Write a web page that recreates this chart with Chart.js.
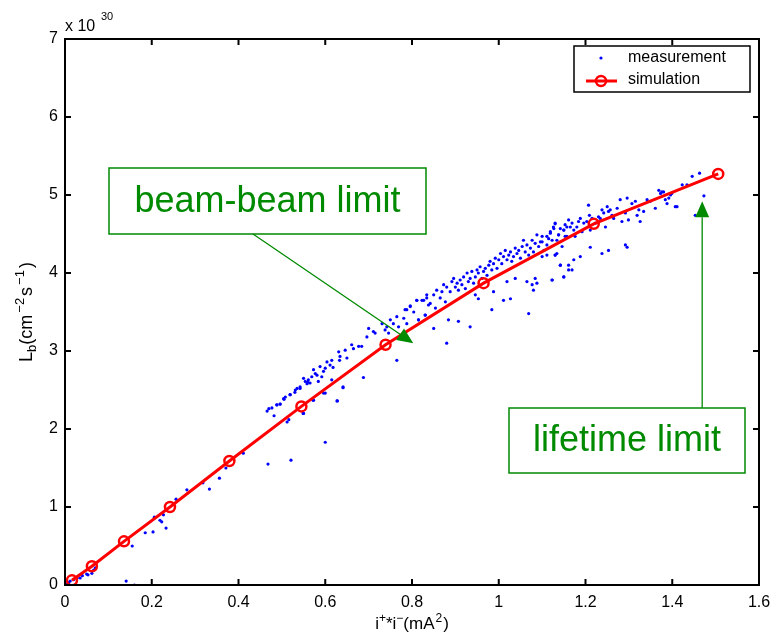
<!DOCTYPE html>
<html>
<head>
<meta charset="utf-8">
<script src="https://cdn.jsdelivr.net/npm/chart.js@4"></script>
<style>
  html, body { margin: 0; padding: 0; background: #fff; }
</style>
</head>
<body>
<canvas id="chart" width="771" height="636"></canvas>
<script>
// axis ticks
const xTickValues = [0, 0.2, 0.4, 0.6, 0.8, 1, 1.2, 1.4, 1.6];
const xTickLabels = ['0', '0.2', '0.4', '0.6', '0.8', '1', '1.2', '1.4', '1.6'];
const yTickValues = [0, 1, 2, 3, 4, 5, 6, 7];
const yTickLabels = ['0', '1', '2', '3', '4', '5', '6', '7'];

// simulation (red line with circles), L in units of 1e30
const simX = [0.016, 0.062, 0.136, 0.242, 0.379, 0.545, 0.739, 0.965, 1.219, 1.506];
const simY = [0.06, 0.24, 0.56, 1.00, 1.59, 2.29, 3.08, 3.87, 4.63, 5.27];

const measX = [
  0.003, 0.008, 0.012, 0.020, 0.028, 0.035, 0.040, 0.050, 0.053, 0.062, 0.066, 0.070, 0.141, 0.160,
  0.155, 0.185, 0.203, 0.206, 0.219, 0.223, 0.227, 0.233, 0.256, 0.281, 0.318, 0.333, 0.356, 0.371,
  0.411, 0.468, 0.521, 0.600,
  0.466, 0.470, 0.482, 0.489, 0.496, 0.505, 0.512, 0.516, 0.519, 0.530, 0.542, 0.549, 0.558, 0.560,
  0.572, 0.600, 0.627, 0.641,
  0.477, 0.488, 0.496, 0.504, 0.508, 0.519, 0.531, 0.535, 0.542, 0.550, 0.554, 0.561, 0.565, 0.569,
  0.573, 0.577, 0.581, 0.584, 0.588, 0.592, 0.596, 0.600, 0.604, 0.611, 0.615, 0.618, 0.631, 0.634,
  0.633, 0.646, 0.650, 0.661, 0.665, 0.677, 0.684, 0.696, 0.700, 0.711, 0.715, 0.731, 0.738, 0.742,
  0.746, 0.750, 0.757, 0.765, 0.769, 0.781, 0.784, 0.788, 0.796, 0.804, 0.811, 0.815, 0.827, 0.831,
  0.834, 0.838,
  0.550, 0.573, 0.596, 0.615, 0.628, 0.641, 0.688, 0.765,
  0.788, 0.796, 0.811, 0.815, 0.823, 0.830, 0.834, 0.842, 0.850, 0.854, 0.857, 0.865, 0.869, 0.873,
  0.877, 0.880, 0.888, 0.892, 0.896, 0.900, 0.904, 0.907, 0.911, 0.915, 0.919, 0.923, 0.927, 0.930,
  0.934, 0.938, 0.942, 0.946, 0.950, 0.953, 0.957, 0.961, 0.965, 0.969, 0.973, 0.977, 0.980, 0.984,
  0.988, 0.992, 0.996, 1.000, 1.004, 1.007, 1.011, 1.015, 1.019, 1.023, 1.027, 1.030, 1.034, 1.038,
  1.042, 1.046, 1.050, 1.054, 1.057, 1.061, 1.065, 1.069, 1.073, 1.077, 1.080, 1.084, 1.088, 1.092,
  1.096, 1.100, 1.104, 1.111, 1.115, 1.119, 1.123, 1.127, 1.130, 1.134, 1.138, 1.150, 1.153, 1.157,
  0.850, 0.884, 0.907, 0.934, 0.880, 0.984, 0.953, 0.988, 1.011, 1.019, 1.027, 1.038, 1.069, 1.065,
  1.077, 1.080, 1.084, 1.088, 1.123, 1.142, 1.150, 1.161, 1.130, 0.946,
  1.100, 1.111, 1.119, 1.126, 1.130, 1.134, 1.138, 1.142, 1.146, 1.150, 1.153, 1.157, 1.161, 1.165,
  1.169, 1.173, 1.176, 1.180, 1.184, 1.188, 1.192, 1.196, 1.203, 1.207, 1.209, 1.211, 1.215, 1.223,
  1.230, 1.234, 1.238, 1.242, 1.246, 1.250, 1.253, 1.257, 1.261, 1.265, 1.273, 1.280, 1.284, 1.292,
  1.296, 1.299, 1.307, 1.315, 1.319, 1.323, 1.326, 1.334, 1.342, 1.349, 1.361, 1.369, 1.373, 1.376,
  1.380, 1.384, 1.388, 1.392, 1.396, 1.399, 1.407, 1.411, 1.423, 1.434, 1.446, 1.463, 1.473, 1.453,
  1.100, 1.111, 1.130, 1.142, 1.161, 1.169, 1.150, 1.123, 1.173, 1.188, 1.211, 1.238, 1.253, 1.292,
  1.296
];
const measY = [
  0.01, 0.03, 0.05, 0.07, 0.09, 0.09, 0.12, 0.14, 0.13, 0.15, 0.19, 0.22, 0.05, 0.00,
  0.50, 0.67, 0.68, 0.87, 0.83, 0.81, 0.90, 0.73, 1.10, 1.22, 1.31, 1.23, 1.37, 1.50,
  1.69, 1.55, 1.60, 1.83,
  2.23, 2.26, 2.17, 2.31, 2.32, 2.38, 2.09, 2.12, 2.44, 2.47, 2.52, 2.20, 2.58, 2.60,
  2.37, 2.46, 2.36, 2.54,
  2.27, 2.31, 2.32, 2.39, 2.41, 2.44, 2.50, 2.52, 2.54, 2.65, 2.61, 2.63, 2.59, 2.67,
  2.76, 2.71, 2.69, 2.61, 2.80, 2.67, 2.74, 2.78, 2.86, 2.82, 2.88, 2.79, 2.99, 2.93,
  2.88, 3.01, 2.91, 3.08, 3.03, 3.06, 3.06, 3.18, 3.29, 3.25, 3.23, 3.35, 3.27, 3.31,
  3.23, 3.40, 3.35, 3.44, 3.31, 3.42, 3.53, 3.35, 3.57, 3.50, 3.65, 3.40, 3.65, 3.46,
  3.72, 3.59,
  2.20, 2.37, 2.46, 2.63, 2.36, 2.53, 2.66, 2.88,
  3.53, 3.58, 3.65, 3.40, 3.65, 3.46, 3.68, 3.61, 3.72, 3.55, 3.78, 3.68, 3.76, 3.85,
  3.63, 3.82, 3.76, 3.89, 3.93, 3.82, 3.87, 3.78, 3.91, 3.85, 3.95, 3.80, 4.00, 3.89,
  3.93, 4.02, 3.87, 3.95, 4.04, 4.00, 4.08, 3.93, 4.02, 4.06, 3.97, 4.10, 4.15, 4.04,
  4.12, 4.19, 4.06, 4.17, 4.25, 4.12, 4.21, 4.29, 4.17, 4.23, 4.27, 4.15, 4.21, 4.32,
  4.25, 4.29, 4.19, 4.34, 4.42, 4.27, 4.36, 4.23, 4.32, 4.42, 4.27, 4.38, 4.49, 4.34,
  4.40, 4.47, 4.29, 4.36, 4.44, 4.51, 4.42, 4.57, 4.63, 4.25, 4.49, 4.55, 4.47, 4.59,
  3.29, 3.40, 3.38, 3.31, 3.10, 3.53, 3.67, 3.76, 3.65, 3.89, 3.67, 3.93, 3.48, 3.89,
  3.85, 3.78, 3.93, 3.87, 3.91, 4.10, 3.95, 4.04, 4.23, 3.72,
  4.40, 4.47, 4.53, 4.59, 4.64, 4.42, 4.49, 4.57, 4.34, 4.55, 4.62, 4.47, 4.68, 4.59,
  4.64, 4.55, 4.47, 4.59, 4.66, 4.70, 4.53, 4.64, 4.66, 4.87, 4.74, 4.55, 4.70, 4.64,
  4.72, 4.70, 4.81, 4.77, 4.59, 4.85, 4.79, 4.81, 4.74, 4.70, 4.83, 4.94, 4.66, 4.77,
  4.96, 4.68, 4.89, 4.92, 4.74, 4.81, 4.66, 4.79, 4.94, 4.92, 4.83, 5.06, 5.02, 5.04,
  5.04, 4.94, 4.89, 4.96, 5.00, 5.02, 4.85, 4.85, 5.13, 5.13, 5.24, 5.28, 4.99, 4.74,
  4.21, 4.23, 4.23, 4.10, 4.10, 4.04, 3.95, 3.91, 4.17, 4.21, 4.33, 4.25, 4.29, 4.36,
  4.33
];

const green = '#008a00';
const font = '"Liberation Sans", Arial, sans-serif';

// draw a run of text pieces with size / baseline shift, centered on x
function richText(ctx, parts, x, y) {
  let w = 0;
  parts.forEach(p => { ctx.font = p.s + 'px ' + font; p.w = ctx.measureText(p.t).width + (p.gap || 0); w += p.w; });
  let cx = x - w / 2;
  ctx.textBaseline = 'alphabetic';
  ctx.textAlign = 'left';
  parts.forEach(p => {
    ctx.font = p.s + 'px ' + font;
    ctx.fillText(p.t, cx + (p.gap || 0) / 2, y + (p.dy || 0));
    cx += p.w;
  });
}

function arrow(ctx, x1, y1, x2, y2) {
  const a = Math.atan2(y2 - y1, x2 - x1);
  const len = 16, half = 7;
  const bx = x2 - len * Math.cos(a), by = y2 - len * Math.sin(a);
  ctx.beginPath();
  ctx.moveTo(x1, y1);
  ctx.lineTo(bx, by);
  ctx.stroke();
  ctx.beginPath();
  ctx.moveTo(x2, y2);
  ctx.lineTo(bx + half * Math.sin(a), by - half * Math.cos(a));
  ctx.lineTo(bx - half * Math.sin(a), by + half * Math.cos(a));
  ctx.closePath();
  ctx.fill();
}

const decor = {
  id: 'decor',
  afterDraw(chart) {
    const ctx = chart.ctx;
    const ca = chart.chartArea;
    const xs = chart.scales.x, ys = chart.scales.y;
    ctx.save();

    // box and inward ticks on all sides
    ctx.strokeStyle = '#000';
    ctx.lineWidth = 2;
    ctx.strokeRect(ca.left, ca.top, ca.right - ca.left, ca.bottom - ca.top);
    ctx.beginPath();
    xTickValues.forEach(v => {
      const px = xs.getPixelForValue(v);
      ctx.moveTo(px, ca.bottom); ctx.lineTo(px, ca.bottom - 6);
      ctx.moveTo(px, ca.top); ctx.lineTo(px, ca.top + 6);
    });
    yTickValues.forEach(v => {
      const py = ys.getPixelForValue(v);
      ctx.moveTo(ca.left, py); ctx.lineTo(ca.left + 6, py);
      ctx.moveTo(ca.right, py); ctx.lineTo(ca.right - 6, py);
    });
    ctx.stroke();

    // exponent label
    ctx.fillStyle = '#000';
    ctx.textAlign = 'left';
    ctx.textBaseline = 'alphabetic';
    ctx.font = '16px ' + font;
    ctx.fillText('x 10', 65, 31);
    ctx.font = '11px ' + font;
    ctx.fillText('30', 101, 20);

    // axis titles
    richText(ctx, [
      { t: 'i', s: 17 }, { t: '+', s: 12, dy: -7 }, { t: '*', s: 17 }, { t: 'i', s: 17 },
      { t: '\u2212', s: 12, dy: -7 }, { t: '(mA', s: 17 }, { t: '2', s: 12, dy: -7, gap: 2 }, { t: ')', s: 17 }
    ], (ca.left + ca.right) / 2, 629);

    ctx.save();
    ctx.translate(32, (ca.top + ca.bottom) / 2);
    ctx.rotate(-Math.PI / 2);
    richText(ctx, [
      { t: 'L', s: 18 }, { t: 'b', s: 13, dy: 4 }, { t: '(cm', s: 18 }, { t: '\u22122', s: 13, dy: -8, gap: 4 },
      { t: 's', s: 18 }, { t: '\u22121', s: 13, dy: -8, gap: 4 }, { t: ')', s: 18 }
    ], 0, 0);
    ctx.restore();

    // legend
    const lg = { x: 574, y: 46, w: 176, h: 46 };
    ctx.fillStyle = '#fff';
    ctx.fillRect(lg.x, lg.y, lg.w, lg.h);
    ctx.lineWidth = 1.5;
    ctx.strokeStyle = '#000';
    ctx.strokeRect(lg.x, lg.y, lg.w, lg.h);
    const meas = chart.data.datasets[1], sim = chart.data.datasets[0];
    ctx.fillStyle = meas.backgroundColor;
    ctx.beginPath(); ctx.arc(601, 58, 1.6, 0, Math.PI * 2); ctx.fill();
    ctx.strokeStyle = sim.borderColor;
    ctx.lineWidth = 3;
    ctx.beginPath(); ctx.moveTo(586, 81); ctx.lineTo(617, 81); ctx.stroke();
    ctx.lineWidth = 2.5;
    ctx.beginPath(); ctx.arc(601, 81, 5, 0, Math.PI * 2); ctx.stroke();
    ctx.fillStyle = '#000';
    ctx.font = '16px ' + font;
    ctx.textBaseline = 'middle';
    ctx.fillText(meas.label, 628, 58);
    ctx.fillText(sim.label, 628, 80);

    // annotations
    ctx.strokeStyle = green;
    ctx.fillStyle = green;
    ctx.lineWidth = 1.5;
    ctx.strokeRect(109, 168, 317, 66);
    ctx.strokeRect(509, 408, 236, 65);
    ctx.font = '36px ' + font;
    ctx.textAlign = 'center';
    ctx.textBaseline = 'middle';
    ctx.fillText('beam-beam limit', 267.5, 202);
    ctx.fillText('lifetime limit', 627, 441);
    ctx.lineWidth = 1.3;
    arrow(ctx, 253, 234, xs.getPixelForValue(0.803), ys.getPixelForValue(3.10));
    const tipX = xs.getPixelForValue(1.469);
    arrow(ctx, tipX, 408, tipX, ys.getPixelForValue(4.92));

    ctx.restore();
  }
};

const ctx = document.getElementById('chart').getContext('2d');
new Chart(ctx, {
  type: 'scatter',
  data: {
    datasets: [
      {
        label: 'simulation',
        data: simX.map((x, i) => ({ x: x, y: simY[i] })),
        showLine: true,
        borderColor: '#ff0000',
        borderWidth: 3,
        pointRadius: 5,
        pointBorderWidth: 2.5,
        pointBackgroundColor: 'rgba(0,0,0,0)',
        pointBorderColor: '#ff0000',
        order: 1
      },
      {
        label: 'measurement',
        data: measX.map((x, i) => ({ x: x, y: measY[i] })),
        backgroundColor: '#0000ff',
        borderWidth: 0,
        pointRadius: 1.6,
        order: 2
      }
    ]
  },
  options: {
    responsive: false,
    animation: false,
    layout: { padding: { top: 39, right: 12, left: 0, bottom: 0 } },
    plugins: { legend: { display: false }, tooltip: { enabled: false } },
    scales: {
      x: {
        type: 'linear',
        min: 0, max: 1.6,
        afterBuildTicks: s => { s.ticks = xTickValues.map(v => ({ value: v })); },
        afterFit: s => { s.height = 51; s.paddingLeft = 0; s.paddingRight = 0; },
        grid: { display: false, drawTicks: false },
        border: { display: false },
        ticks: {
          padding: 8,
          color: '#000',
          font: { family: font, size: 16 },
          callback: (v, i) => xTickLabels[i]
        }
      },
      y: {
        type: 'linear',
        min: 0, max: 7,
        afterBuildTicks: s => { s.ticks = yTickValues.map(v => ({ value: v })); },
        afterFit: s => { s.width = 65; s.paddingTop = 0; s.paddingBottom = 0; },
        grid: { display: false, drawTicks: false },
        border: { display: false },
        ticks: {
          padding: 7,
          color: '#000',
          font: { family: font, size: 16 },
          callback: (v, i) => yTickLabels[i]
        }
      }
    }
  },
  plugins: [decor]
});
</script>
</body>
</html>
